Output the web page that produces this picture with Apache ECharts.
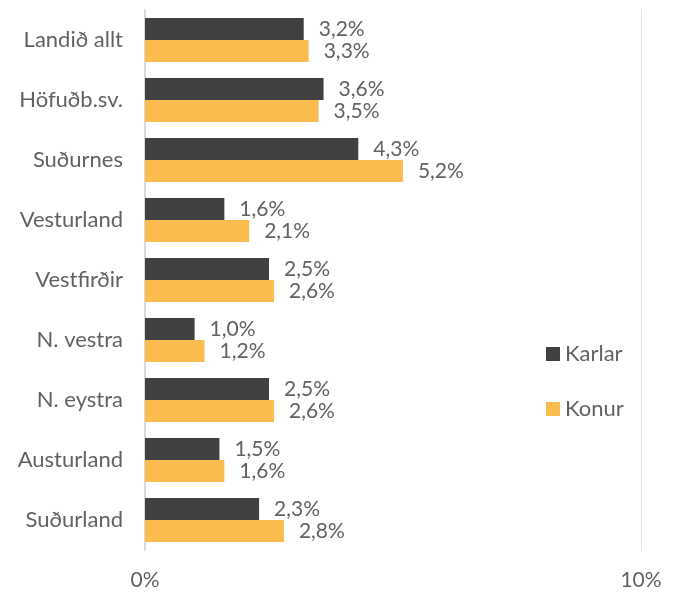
<!DOCTYPE html>
<html>
<head>
<meta charset="utf-8">
<script src="https://cdn.jsdelivr.net/npm/echarts@6/dist/echarts.min.js"></script>
<style>
  html, body { margin: 0; padding: 0; background: #fff; }
  #main { width: 678px; height: 592px; }
</style>
</head>
<body>
<div id="main"></div>
<script>
// svæði
var regions = ['Landið allt', 'Höfuðb.sv.', 'Suðurnes', 'Vesturland', 'Vestfirðir', 'N. vestra', 'N. eystra', 'Austurland', 'Suðurland'];
var karlar = [3.2, 3.6, 4.3, 1.6, 2.5, 1.0, 2.5, 1.5, 2.3];
var konur = [3.3, 3.5, 5.2, 2.1, 2.6, 1.2, 2.6, 1.6, 2.8];

var textColor = '#626262';
var font = 'Lato, "Open Sans", sans-serif';

function pct(v) {
    return v.toFixed(1).replace('.', ',') + '%';
}

var chart = echarts.init(document.getElementById('main'));

var option = {
    animation: false,
    textStyle: { fontFamily: font },
    grid: { left: 145, right: 37, top: 10, bottom: 42 },
    legend: {
        orient: 'vertical',
        left: 541,
        top: 338,
        itemGap: 33,
        itemWidth: 14,
        itemHeight: 14,
        icon: 'rect',
        textStyle: { color: textColor, fontSize: 22, fontFamily: font },
        data: ['Karlar', 'Konur']
    },
    xAxis: {
        type: 'value',
        min: 0,
        max: 10,
        interval: 10,
        axisLine: { show: false },
        axisTick: { show: false },
        splitLine: { show: true, lineStyle: { color: '#e3e3e3', width: 1 } },
        axisLabel: {
            color: textColor,
            fontSize: 21,
            margin: 20,
            formatter: function (v) { return v + '%'; }
        }
    },
    yAxis: {
        type: 'category',
        inverse: true,
        data: regions,
        axisLine: { show: true, lineStyle: { color: '#d9d9d9', width: 2 } },
        axisTick: { show: false },
        axisLabel: { color: textColor, fontSize: 22, margin: 22 }
    },
    series: [
        {
            name: 'Karlar',
            type: 'bar',
            data: karlar,
            barGap: '0%',
            barCategoryGap: '27%',
            itemStyle: { color: '#404040' },
            label: {
                show: true,
                position: 'right',
                distance: 15,
                color: textColor,
                fontSize: 21,
                formatter: function (p) { return pct(p.value); }
            }
        },
        {
            name: 'Konur',
            type: 'bar',
            data: konur,
            barGap: '0%',
            barCategoryGap: '27%',
            itemStyle: { color: '#FABB4F' },
            label: {
                show: true,
                position: 'right',
                distance: 15,
                color: textColor,
                fontSize: 21,
                formatter: function (p) { return pct(p.value); }
            }
        }
    ]
};

chart.setOption(option);
</script>
</body>
</html>
